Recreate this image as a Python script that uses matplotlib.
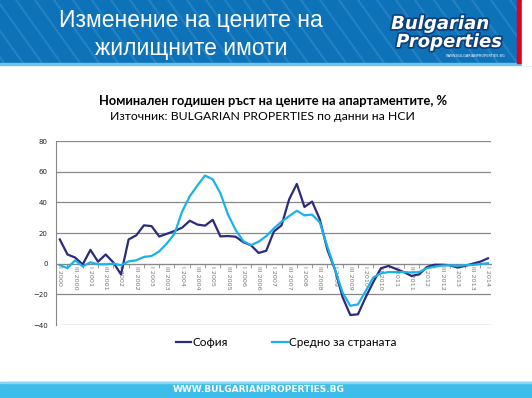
import matplotlib.pyplot as plt
import matplotlib.patheffects as pe
from matplotlib.patches import Rectangle
from matplotlib.lines import Line2D

# quarterly data, I 2000 .. I 2014
sofia = [15.8, 6, 4, -0.5, 9, 1.3, 6, 0.8, -7, 15.8,
         18.5, 25, 24.5, 17.7, 19.5, 21.3, 23.5, 28, 25.5, 24.8,
         28.6, 17.8, 18, 17.6, 14, 12, 7, 8.4, 21, 25,
         42, 52, 37, 40.5, 29, 9, -4, -22, -33.5, -33,
         -22, -12, -3, -1.5, -3.5, -5.5, -8, -7, -2.2, -0.7,
         -0.7, -1, -2.5, -1.5, 0, 1.3, 3.5]
average = [-1, -2.9, 2.2, -1.8, 0.9, -0.4, -0.4, 0, -1, 1.5,
           2.2, 4.4, 5, 8, 13.2, 19.5, 34, 44, 51, 57.5,
           55, 46, 32, 22, 14.7, 12.1, 14.3, 18, 23, 27.4,
           31, 34.5, 31.5, 32, 27, 11, -4, -19, -27.5, -26.5,
           -18, -9, -6.3, -5.5, -5.5, -5.5, -5.8, -5.5, -3, -2,
           -1.3, -1, -1.5, -1, -0.8, -0.3, 0.3]
years = list(range(2000, 2015))
tick_labels = []
for y in years:
    tick_labels.append("I " + str(y))
    if y < 2014:
        tick_labels.append("III " + str(y))

fig = plt.figure(figsize=(5.32, 3.98), dpi=100)
W, H = 532.0, 398.0

# header band
fig.add_artist(Rectangle((0, 1 - 63 / H), 1, 63 / H, transform=fig.transFigure,
                         color="#0e72b8", zorder=0))
for x0 in range(-60, 560, 19):
    fig.add_artist(Line2D([x0 / W, (x0 + 45) / W], [1, 1 - 63 / H],
                          transform=fig.transFigure, color="#2181c2", lw=1.6, zorder=0.5))
fig.add_artist(Rectangle((0, 1 - 65 / H), 1, 2.5 / H, transform=fig.transFigure,
                         color="#6cc3ec", zorder=1))
fig.add_artist(Rectangle((517 / W, 1 - 63 / H), 5 / W, 63 / H, transform=fig.transFigure,
                         color="#e3001b", zorder=1))
fig.add_artist(Rectangle((522 / W, 1 - 65 / H), 10 / W, 65 / H, transform=fig.transFigure,
                         color="white", zorder=1))

fig.text(191 / W, 1 - 20 / H, "Изменение на цените на", color="white", fontsize=16.5,
         family="Liberation Sans", ha="center", va="center", zorder=2)
fig.text(191 / W, 1 - 49 / H, "жилищните имоти", color="white", fontsize=16.5,
         family="Liberation Sans", ha="center", va="center", zorder=2)

outline = [pe.withStroke(linewidth=2.5, foreground="#0d3f7d")]
fig.text(440 / W, 1 - 24 / H, "Bulgarian", color="white", fontsize=13, weight="bold",
         style="italic", family="DejaVu Sans", ha="center", va="center",
         path_effects=outline, zorder=3)
fig.text(449 / W, 1 - 42 / H, "Properties", color="white", fontsize=13, weight="bold",
         style="italic", family="DejaVu Sans", ha="center", va="center",
         path_effects=outline, zorder=3)
fig.text(505 / W, 1 - 56 / H, "WWW.BULGARIANPROPERTIES.BG", color="white", fontsize=2.5,
         ha="right", va="center", zorder=3)

# footer band
fig.add_artist(Rectangle((0, 0), 1, 16 / H, transform=fig.transFigure,
                         color="#3dbde9", zorder=0))
fig.add_artist(Rectangle((0, 15 / H), 1, 1.5 / H, transform=fig.transFigure,
                         color="#8ad6f2", zorder=1))
fig.text(259 / W, 8 / H, "WWW.BULGARIANPROPERTIES.BG", color="white", fontsize=6.5,
         weight="bold", ha="center", va="center")

# chart titles
fig.text(273 / W, 1 - 101 / H, "Номинален годишен ръст на цените на апартаментите, %",
         fontsize=9.3, weight="bold", family="Lato", ha="center", va="center")
fig.text(262 / W, 1 - 117 / H, "Източник: BULGARIAN PROPERTIES по данни на НСИ",
         fontsize=8.8, family="Lato", ha="center", va="center")

ax = fig.add_axes([56 / W, 1 - 325 / H, 435 / W, 184 / H])
x = list(range(len(sofia)))
ax.plot(x, sofia, color="#2b2a7c", lw=1.6, label="София", zorder=3)
ax.plot(x, average, color="#1bb1ea", lw=1.6, label="Средно за страната", zorder=3)

ax.set_xlim(-0.5, 56.4)
ax.set_ylim(-40, 80)
ax.set_yticks(range(-40, 81, 20))
ax.yaxis.grid(True, color="#888888", lw=0.9)
ax.set_axisbelow(True)
ax.tick_params(axis="y", length=0, labelsize=5, pad=6, colors="#222222")

ax.spines["top"].set_visible(False)
ax.spines["right"].set_visible(False)
ax.spines["left"].set_color("#888888")
ax.spines["bottom"].set_position(("data", 0))
ax.spines["bottom"].set_color("#888888")
ax.set_xticks(range(0, 57, 2))
ax.set_xticklabels(tick_labels, rotation=270, fontsize=4.6, color="#777777")
ax.set_xticks([i + 1 for i in range(0, 56, 2)] + [-0.5], minor=True)
ax.tick_params(axis="x", which="major", length=0, pad=2)
ax.tick_params(axis="x", which="minor", length=3, color="#888888")

fig.legend(loc="center", bbox_to_anchor=(286 / W, 1 - 343 / H), ncol=2, frameon=False,
           prop={"family": "Lato", "size": 8.5}, handlelength=1.3, handletextpad=0.1,
           columnspacing=3.8)

fig.savefig("out.png", dpi=100)
